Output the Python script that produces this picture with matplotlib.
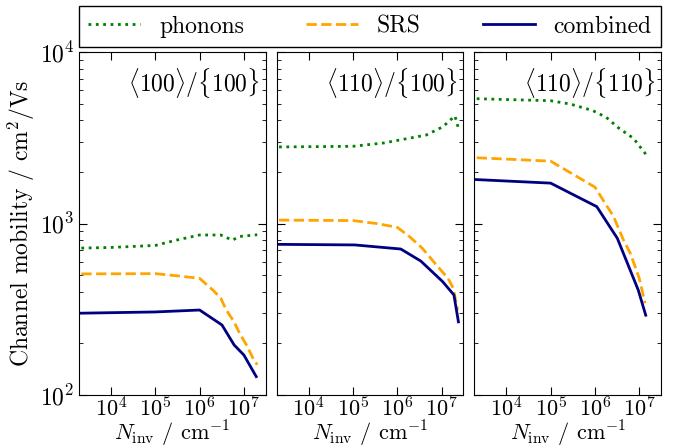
import matplotlib
matplotlib.use('Agg')
import matplotlib.pyplot as plt

# 字体设置 (Computer Modern)
plt.rcParams['font.family'] = 'serif'
plt.rcParams['font.serif'] = ['cmr10']
plt.rcParams['mathtext.fontset'] = 'cm'
plt.rcParams['axes.formatter.use_mathtext'] = True
plt.rcParams['font.size'] = 17

titles = [r'$\langle 100\rangle/\{100\}$', r'$\langle 110\rangle/\{100\}$', r'$\langle 110\rangle/\{110\}$']

# panel 1
x_ph1 = [1e3, 1e4, 1e5, 3e5, 1e6, 3e6, 5.5e6, 8e6, 2e7]
y_ph1 = [716, 725, 745, 800, 857, 857, 800, 840, 860]
x_srs1 = [1e3, 1e4, 1e5, 3e5, 1e6, 2e6, 3e6, 4e6, 6e6, 8e6, 1.15e7, 1.6e7, 2e7]
y_srs1 = [508, 509, 510, 496, 479, 409, 367, 313, 267, 229, 195, 164, 150]
x_com1 = [1e3, 1e5, 1e6, 3.2e6, 6e6, 1e7, 1.9e7]
y_com1 = [299, 305, 313, 256, 196, 171, 128]

# panel 2
x_ph2 = [1e3, 1e5, 5e5, 1.4e6, 4.5e6, 1.06e7, 2e7, 2.4e7]
y_ph2 = [2790, 2820, 2950, 3100, 3280, 3660, 4240, 3590]
x_srs2 = [1e3, 1e5, 3.4e5, 1e6, 1.9e6, 3.7e6, 7.1e6, 1.4e7, 1.84e7, 2.3e7]
y_srs2 = [1048, 1040, 1000, 950, 838, 716, 586, 479, 419, 313]
x_com2 = [1e3, 1.1e5, 1.2e6, 3.4e6, 1.06e7, 1.9e7, 2.4e7]
y_com2 = [757, 750, 710, 604, 458, 383, 267]

# panel 3
x_ph3 = [1e3, 1e5, 2.8e5, 9e5, 1.8e6, 3.5e6, 7.4e6, 1.35e7, 1.5e7]
y_ph3 = [5370, 5200, 4970, 4550, 4160, 3590, 3140, 2570, 2430]
x_srs3 = [1e3, 1e5, 1e6, 1.75e6, 2.6e6, 4.4e6, 6.3e6, 1e7, 1.35e7]
y_srs3 = [2440, 2310, 1630, 1295, 1106, 801, 670, 479, 343]
x_com3 = [1e3, 1e5, 1.1e6, 3.2e6, 9.5e6, 1.4e7]
y_com3 = [1820, 1720, 1254, 820, 409, 292]

panels = [
    (x_ph1, y_ph1, x_srs1, y_srs1, x_com1, y_com1),
    (x_ph2, y_ph2, x_srs2, y_srs2, x_com2, y_com2),
    (x_ph3, y_ph3, x_srs3, y_srs3, x_com3, y_com3),
]

fig, axes = plt.subplots(1, 3, sharey=True, figsize=(6.73, 4.48), dpi=100)
plt.subplots_adjust(left=0.1174, right=0.9822, bottom=0.1183, top=0.8839, wspace=0.059)

for i, ax in enumerate(axes):
    xp, yp, xs, ys, xc, yc = panels[i]
    ax.plot(xp, yp, ':', color='green', lw=2, label='phonons')
    ax.plot(xs, ys, '--', color='orange', lw=2, label='SRS')
    ax.plot(xc, yc, '-', color='navy', lw=2, label='combined')
    ax.set_xscale('log')
    ax.set_yscale('log')
    ax.set_xlim(1.9e3, 3.1e7)
    ax.set_ylim(1e2, 1e4)
    ax.set_xticks([1e4, 1e5, 1e6, 1e7])
    ax.tick_params(which='both', direction='in', top=True, right=True)
    ax.tick_params(which='major', length=6)
    ax.tick_params(axis='x', which='major', pad=1, labelsize=16)
    ax.tick_params(which='minor', length=3)
    ax.set_xlabel(r'$N_{\rm inv}$ / cm$^{-1}$', fontsize=16, labelpad=-1)
    ax.text(0.97, 0.96, titles[i], transform=ax.transAxes, ha='right', va='top')

axes[0].set_ylabel('Channel mobility / cm$^2$/Vs', labelpad=2)

handles, labels = axes[0].get_legend_handles_labels()
fig.legend(handles, labels, loc='lower left', ncol=3, mode='expand',
           bbox_to_anchor=(0.1174, 0.8951, 0.8648, 0.0848), borderaxespad=0,
           fancybox=False, edgecolor='black', framealpha=1, handlelength=2.2)

plt.savefig('out.png', dpi=100)
